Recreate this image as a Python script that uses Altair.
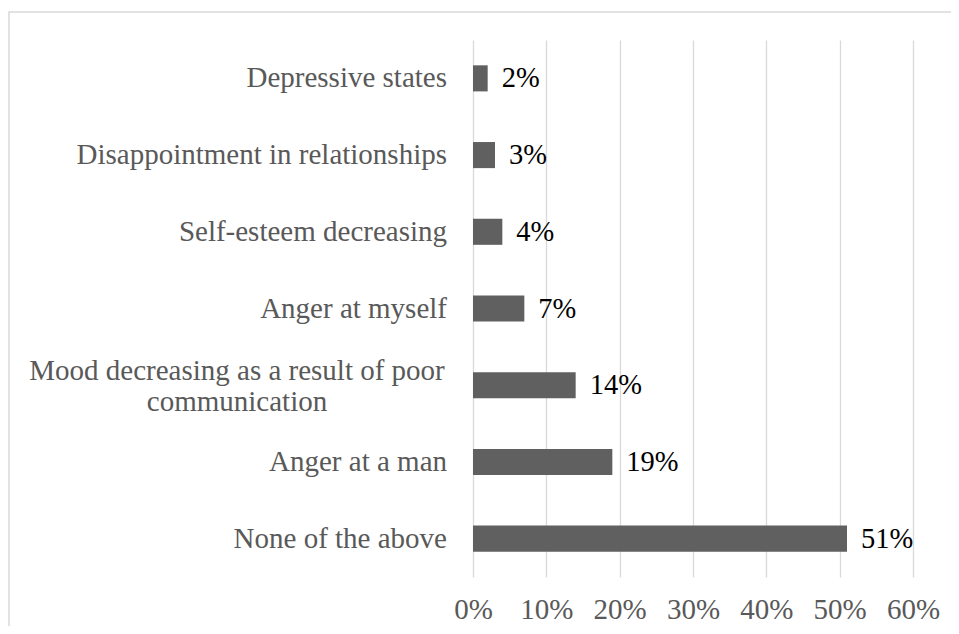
import altair as alt
import pandas as pd

categories = [
    "Depressive states",
    "Disappointment in relationships",
    "Self-esteem decreasing",
    "Anger at myself",
    "Mood decreasing as a result of poor communication",
    "Anger at a man",
    "None of the above",
]
values = [2, 3, 4, 7, 14, 19, 51]
label_text = [
    "Depressive states",
    "Disappointment in relationships",
    "Self-esteem decreasing",
    "Anger at myself",
    "Mood decreasing as a result of poor\ncommunication",
    "Anger at a man",
    "None of the above",
]
multiline = [False, False, False, False, True, False, False]
tick_values = [0, 0.1, 0.2, 0.3, 0.4, 0.5, 0.6]

FONT = "Liberation Serif"
GREY_TXT = "#595959"
FS = 29

df = pd.DataFrame({
    "category": categories,
    "value": values,
    "frac": [v / 100 for v in values],
    "label": label_text,
    "multi": multiline,
    "vlabel": [f"{v}%" for v in values],
})

y_enc = alt.Y(
    "category:N",
    sort=categories,
    scale=alt.Scale(paddingInner=0.66, paddingOuter=0.33),
    axis=None,
)

base = alt.Chart(df)

bars = base.mark_bar(color="#606060").encode(
    x=alt.X(
        "frac:Q",
        scale=alt.Scale(domain=[0, 0.6]),
        axis=alt.Axis(
            format=".0%",
            values=tick_values,
            grid=True,
            gridColor="#d9d9d9",
            gridWidth=1.3,
            domain=False,
            ticks=False,
            labelFont=FONT,
            labelFontSize=FS,
            labelColor=GREY_TXT,
            labelPadding=18,
            labelOverlap=False,
            labelFlush=False,
            title=None,
        ),
    ),
    y=y_enc,
)

value_labels = base.mark_text(
    align="left", baseline="middle", dx=14, font=FONT, fontSize=28.5, color="black"
).encode(x="frac:Q", y=y_enc, text="vlabel:N")

cat_single = base.transform_filter("!datum.multi").mark_text(
    align="right", baseline="middle", font=FONT, fontSize=FS, color=GREY_TXT
).encode(x=alt.value(-26), y=y_enc, text="label:N")

cat_multi = base.transform_filter("datum.multi").mark_text(
    align="center", baseline="middle", font=FONT, fontSize=FS, color=GREY_TXT,
    lineBreak="\n", lineHeight=31, dy=-14
).encode(x=alt.value(-236), y=y_enc, text="label:N")

border = alt.Chart(pd.DataFrame({"b": [0]})).mark_rect(
    fillOpacity=0, stroke="#d9d9d9", strokeWidth=1.5
).encode(
    x=alt.value(-464), x2=alt.value(700), y=alt.value(-28), y2=alt.value(800)
)

chart = alt.layer(border, bars, value_labels, cat_single, cat_multi).properties(
    width=440,
    height=537,
    autosize=alt.AutoSizeParams(type="none"),
    padding={"left": 465, "top": 32, "right": 38, "bottom": 49},
).configure_view(stroke=None)

chart.save("out.html", embed_options={"renderer": "svg", "actions": False})
